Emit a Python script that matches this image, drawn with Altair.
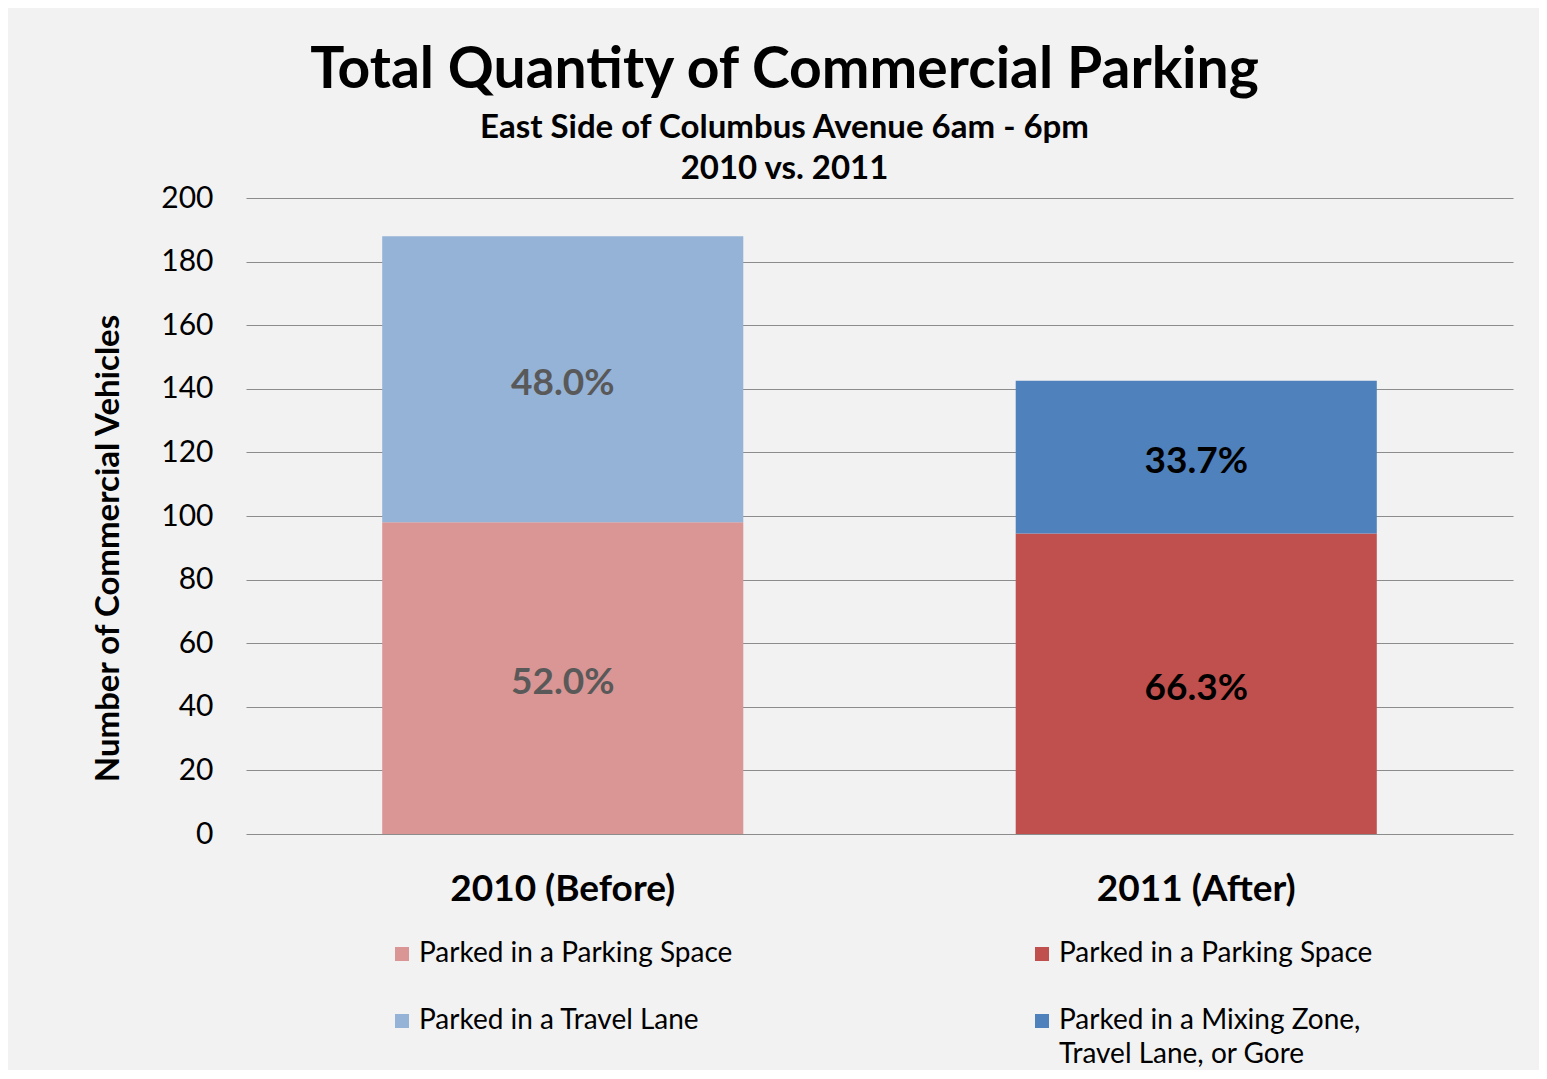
import altair as alt
import pandas as pd

# ---- data ----
years = ["2010 (Before)", "2011 (After)"]
space_vals = [98, 94.5]
lane_vals = [90, 48]
space_pct = ["52.0%", "66.3%"]
lane_pct = ["48.0%", "33.7%"]
space_keys = ["s2010", "s2011"]
lane_keys = ["l2010", "l2011"]
space_colors = ["#d99694", "#c0504d"]
lane_colors = ["#95b3d7", "#4f81bd"]
pct_text_colors = ["#595959", "#000000"]
y_ticks = [0, 20, 40, 60, 80, 100, 120, 140, 160, 180, 200]

rows = []
for i, yr in enumerate(years):
    rows.append({"year": yr, "series": space_keys[i], "value": space_vals[i],
                 "pct": space_pct[i], "order": 0, "tcolor": pct_text_colors[i]})
    rows.append({"year": yr, "series": lane_keys[i], "value": lane_vals[i],
                 "pct": lane_pct[i], "order": 1, "tcolor": pct_text_colors[i]})
df = pd.DataFrame(rows)

# legend fills column by column: 2010 entries left, 2011 entries right
legend_domain = [space_keys[0], lane_keys[0], space_keys[1], lane_keys[1]]
legend_range = [space_colors[0], lane_colors[0], space_colors[1], lane_colors[1]]

FONT = "Lato"

label_expr = ("datum.value == 'l2011' ? ['Parked in a Mixing Zone,', '\u00a0\u00a0Travel Lane, or Gore'] : "
              "(datum.value == 'l2010' ? 'Parked in a Travel Lane' : 'Parked in a Parking Space')")

x_enc = alt.X("year:N", sort=years, title=None,
              scale=alt.Scale(paddingInner=0.43, paddingOuter=0.215),
              axis=alt.Axis(labelAngle=0, labelFont=FONT, labelFontSize=37, labelFontWeight="bold",
                            labelColor="#000000", labelPadding=37, labelLimit=500,
                            ticks=False, domain=False, grid=False))

bars = alt.Chart(df).mark_bar().encode(
    x=x_enc,
    y=alt.Y("value:Q", stack="zero",
            scale=alt.Scale(domain=[0, 200], nice=False),
            axis=alt.Axis(values=y_ticks, title="Number of Commercial Vehicles",
                          titleFont=FONT, titleFontSize=33, titleFontWeight="bold", titleColor="#000000",
                          titlePadding=35, titleY=350,
                          labelFont=FONT, labelFontSize=30, labelColor="#000000",
                          labelPadding=33, ticks=False, domain=False, grid=True,
                          gridColor="#8c8c8c", gridWidth=1)),
    color=alt.Color("series:N", scale=alt.Scale(domain=legend_domain, range=legend_range),
                    legend=alt.Legend(title=None, orient="none", legendX=142, legendY=742,
                                      columns=2, columnPadding=295, rowPadding=39,
                                      symbolType="square", symbolSize=196, symbolStrokeWidth=0,
                                      labelFont=FONT, labelFontSize=28, labelColor="#000000",
                                      labelOffset=3, labelLimit=600, labelExpr=label_expr,
                                      padding=0)),
    order=alt.Order("order:Q"),
)

labels = alt.Chart(df).transform_stack(
    stack="value", groupby=["year"], as_=["v0", "v1"], sort=[alt.SortField("order")]
).transform_calculate(
    mid="(datum.v0 + datum.v1) / 2"
).mark_text(font=FONT, fontSize=37, fontWeight="bold", dy=5).encode(
    x=alt.X("year:N", sort=years),
    y=alt.Y("mid:Q"),
    text="pct:N",
    color=alt.Color("tcolor:N", scale=None),
)

chart = alt.layer(bars, labels).properties(
    width=1267, height=636,
    background="#f2f2f2",
    padding={"left": 238, "top": 190, "right": 26, "bottom": 236},
    autosize=alt.AutoSizeParams(type="none"),
    title=alt.TitleParams(
        text="Total Quantity of Commercial Parking",
        subtitle=["East Side of Columbus Avenue 6am - 6pm", "2010  vs. 2011"],
        font=FONT, fontSize=57, fontWeight="bold", color="#000000",
        subtitleFont=FONT, subtitleFontSize=33, subtitleFontWeight="bold", subtitleColor="#000000",
        subtitleLineHeight=41, subtitlePadding=12, anchor="middle", dx=-95, offset=-4,
    ),
).configure(style={"guide-label": {"lineHeight": 34}}).configure_view(stroke=None)

chart.save("out.html", embed_options={"renderer": "svg", "actions": False})
